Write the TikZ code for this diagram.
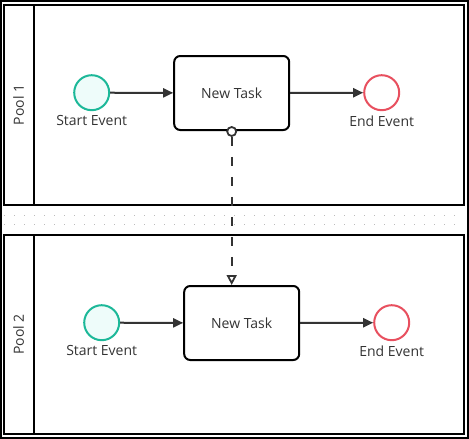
\documentclass[tikz,border=0pt]{standalone}
\usepackage{fontspec}
\setmainfont{Open Sans}
\usetikzlibrary{arrows.meta}
\definecolor{teal}{HTML}{1DB899}
\definecolor{startfill}{HTML}{EEFCFA}
\definecolor{endred}{HTML}{E8505F}
\definecolor{flow}{HTML}{333333}
\definecolor{txt}{HTML}{333333}
\definecolor{dotgray}{HTML}{BBBBBB}
\tikzset{
  pool/.style={draw=black, line width=2pt, minimum width=460pt, inner sep=0pt},
  poollabel/.style={rotate=90, text=txt, font=\fontsize{14}{16}\selectfont},
  startev/.style={circle, draw=teal, fill=startfill, line width=2pt, minimum size=35pt, inner sep=0pt},
  endev/.style={circle, draw=endred, fill=white, line width=2pt, minimum size=35pt, inner sep=0pt},
  taskbox/.style={draw=black, fill=white, line width=2pt, rounded corners=6pt, minimum width=115pt, minimum height=74pt, inner sep=0pt, text=txt, font=\fontsize{14}{16}\selectfont},
  evlabel/.style={anchor=north, inner sep=0pt, text=txt, font=\fontsize{14}{16}\selectfont},
  seqflow/.style={draw=flow, line width=2pt, -{Triangle[length=10pt,width=9pt]}},
  msgflow/.style={draw=flow, line width=2pt, dash pattern=on 9pt off 11pt, -{Triangle[open,length=10pt,width=10pt,line width=1.8pt]}},
  msgstart/.style={circle, draw=flow, fill=white, line width=1.8pt, minimum size=9pt, inner sep=0pt},
  sepline/.style={draw=dotgray, line width=1pt, dash pattern=on 1pt off 9pt}
}
\begin{document}
\begin{tikzpicture}[x=1pt,y=-1pt]
\useasboundingbox (0,0) rectangle (469,439);
% outer border
\draw[black, line width=1.3pt] (1,1) rectangle (468,438);
% separator dotted lines
\coordinate (s1a) at (4,215.5); \coordinate (s1b) at (464,215.5);
\coordinate (s2a) at (4,224.5); \coordinate (s2b) at (464,224.5);
\draw[sepline] (s1a) -- (s1b);
\draw[sepline] (s2a) -- (s2b);
% pools
\node[pool, minimum height=200pt] (pool1) at (234,105) {};
\node[pool, minimum height=199pt] (pool2) at (234,334.5) {};
\coordinate (h1a) at (33.5,5); \coordinate (h1b) at (33.5,205);
\coordinate (h2a) at (33.5,235); \coordinate (h2b) at (33.5,434);
\draw[black, line width=2pt] (h1a) -- (h1b);
\draw[black, line width=2pt] (h2a) -- (h2b);
\node[poollabel] (pl1) at (18.5,105) {Pool 1};
\node[poollabel] (pl2) at (18.5,334.5) {Pool 2};
% pool 1 content
\node[startev] (se1) at (91.7,92.7) {};
\node[evlabel] (se1l) at (91.7,115.5) {Start Event};
\node[taskbox] (t1) at (231.7,93) {New Task};
\node[endev] (ee1) at (381.7,92.7) {};
\node[evlabel] (ee1l) at (381.7,115.5) {End Event};
\draw[seqflow] (se1) -- (t1);
\draw[seqflow] (t1) -- (ee1);
% pool 2 content
\node[startev] (se2) at (101.7,322.7) {};
\node[evlabel] (se2l) at (101.7,345.5) {Start Event};
\node[taskbox] (t2) at (241.7,323) {New Task};
\node[endev] (ee2) at (391.7,322.7) {};
\node[evlabel] (ee2l) at (391.7,345.5) {End Event};
\draw[seqflow] (se2) -- (t2);
\draw[seqflow] (t2) -- (ee2);
% message flow
\node[msgstart] (ms) at (231.7,131.5) {};
\draw[msgflow] (ms.south) -- (ms.south |- t2.north);
\end{tikzpicture}
\end{document}
